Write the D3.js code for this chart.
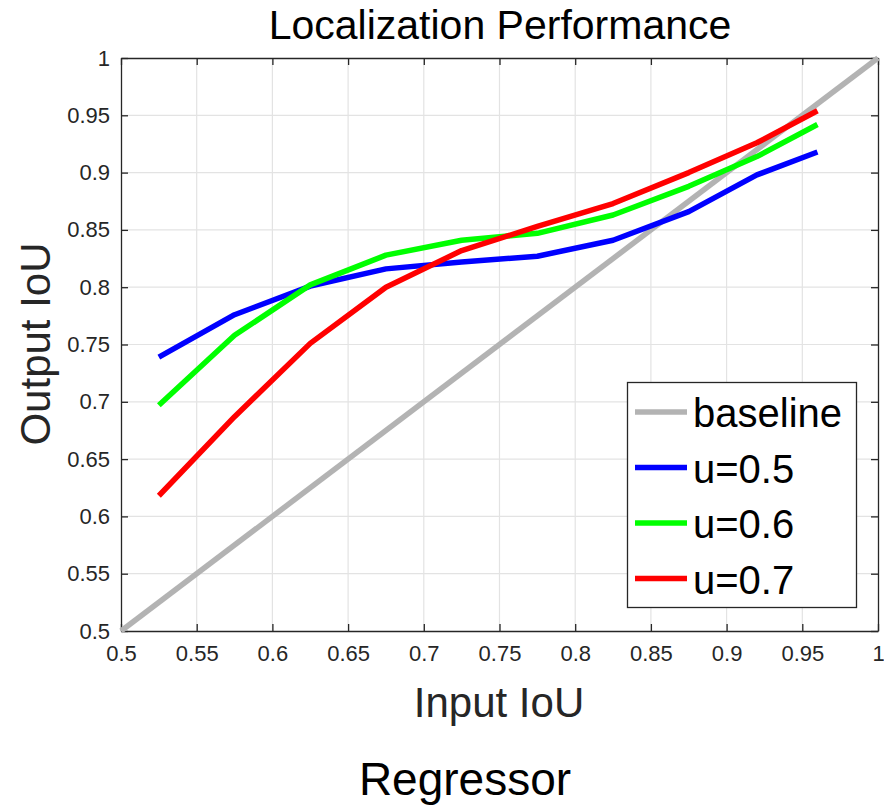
<!DOCTYPE html>
<html><head><meta charset="utf-8">
<script src="https://cdn.jsdelivr.net/npm/d3@7"></script>
<style>body{margin:0;background:#fff}svg{display:block}text{font-family:"Liberation Sans",Arial,sans-serif}</style>
</head><body><div id="c"></div>
<script>
const inputIoU = [0.525, 0.575, 0.625, 0.675, 0.725, 0.775, 0.825, 0.875, 0.92, 0.96];
const u05 = [0.739, 0.776, 0.801, 0.816, 0.822, 0.827, 0.841, 0.866, 0.898, 0.918];
const u06 = [0.697, 0.758, 0.802, 0.828, 0.841, 0.847, 0.863, 0.888, 0.914, 0.942];
const u07 = [0.618, 0.687, 0.751, 0.800, 0.832, 0.853, 0.873, 0.900, 0.926, 0.954];
const baselineX = [0.5, 1];
const baselineY = [0.5, 1];
const ticks = [0.5, 0.55, 0.6, 0.65, 0.7, 0.75, 0.8, 0.85, 0.9, 0.95, 1];
const seriesNames = ["baseline", "u=0.5", "u=0.6", "u=0.7"];
const seriesColors = ["#b3b3b3", "#0000ff", "#00ff00", "#ff0000"];

const W = 884, H = 805;
const L = 121, R = 878, T = 58, B = 631;
const svg = d3.select("#c").append("svg").attr("width", W).attr("height", H);
const x = d3.scaleLinear().domain([0.5, 1]).range([L, R]);
const y = d3.scaleLinear().domain([0.5, 1]).range([B, T]);
const fmt = d => d === 1 ? "1" : d === 0.5 ? "0.5" : String(d);

// grid
const g = svg.append("g");
g.selectAll("line.gx").data(ticks.slice(1, -1)).join("line")
  .attr("x1", d => x(d)).attr("x2", d => x(d)).attr("y1", T).attr("y2", B)
  .attr("stroke", "#e3e3e3").attr("stroke-width", 1.2);
g.selectAll("line.gy").data(ticks.slice(1, -1)).join("line")
  .attr("y1", d => y(d)).attr("y2", d => y(d)).attr("x1", L).attr("x2", R)
  .attr("stroke", "#e3e3e3").attr("stroke-width", 1.2);

// axes
const axColor = "#262626";
const xb = svg.append("g").attr("transform", `translate(0,${B})`)
  .call(d3.axisBottom(x).tickValues(ticks).tickFormat(fmt).tickSizeInner(-7).tickSizeOuter(0).tickPadding(14));
const xt = svg.append("g").attr("transform", `translate(0,${T})`)
  .call(d3.axisTop(x).tickValues(ticks).tickFormat("").tickSizeInner(-7).tickSizeOuter(0));
const yl = svg.append("g").attr("transform", `translate(${L},0)`)
  .call(d3.axisLeft(y).tickValues(ticks).tickFormat(fmt).tickSizeInner(-7).tickSizeOuter(0).tickPadding(11));
const yr = svg.append("g").attr("transform", `translate(${R},0)`)
  .call(d3.axisRight(y).tickValues(ticks).tickFormat("").tickSizeInner(-7).tickSizeOuter(0));
[xb, xt, yl, yr].forEach(a => {
  a.select(".domain").attr("stroke", axColor).attr("stroke-width", 1.3);
  a.selectAll(".tick line").attr("stroke", axColor).attr("stroke-width", 1.3);
  a.selectAll("text").attr("fill", "#262626").style("font-size", "22px").style("font-family", '"Liberation Sans",Arial,sans-serif');
});
xb.selectAll("text").attr("dy", "0.71em");

// lines
const line = d3.line().x(d => x(d[0])).y(d => y(d[1]));
const seriesData = [
  d3.zip(baselineX, baselineY),
  d3.zip(inputIoU, u05),
  d3.zip(inputIoU, u06),
  d3.zip(inputIoU, u07)
];
svg.append("g").selectAll("path").data(seriesData).join("path")
  .attr("d", line).attr("fill", "none")
  .attr("stroke", (d, i) => seriesColors[i]).attr("stroke-width", 5.5)
  .attr("stroke-linejoin", "round");

// legend
const lg = svg.append("g");
lg.append("rect").attr("x", 627.5).attr("y", 382.5).attr("width", 229).attr("height", 225)
  .attr("fill", "#fff").attr("stroke", axColor).attr("stroke-width", 1.3);
seriesNames.forEach((n, i) => {
  const cy = 412 + i * 55.5;
  lg.append("line").attr("x1", 635).attr("x2", 687).attr("y1", cy).attr("y2", cy)
    .attr("stroke", seriesColors[i]).attr("stroke-width", 5.5);
  lg.append("text").attr("x", 693).attr("y", cy + 15).text(n)
    .style("font-size", "40px").attr("fill", "#000");
});

// titles
svg.append("text").attr("x", 500).attr("y", 39).attr("text-anchor", "middle")
  .style("font-size", "41px").attr("fill", "#000").text("Localization Performance");
svg.append("text").attr("x", 499).attr("y", 717).attr("text-anchor", "middle")
  .style("font-size", "42px").attr("fill", "#262626").text("Input IoU");
svg.append("text").attr("transform", "translate(50,344) rotate(-90)").attr("text-anchor", "middle")
  .style("font-size", "42px").attr("fill", "#262626").text("Output IoU");
svg.append("text").attr("x", 465).attr("y", 795).attr("text-anchor", "middle")
  .style("font-size", "46px").attr("fill", "#000").text("Regressor");
</script></body></html>
